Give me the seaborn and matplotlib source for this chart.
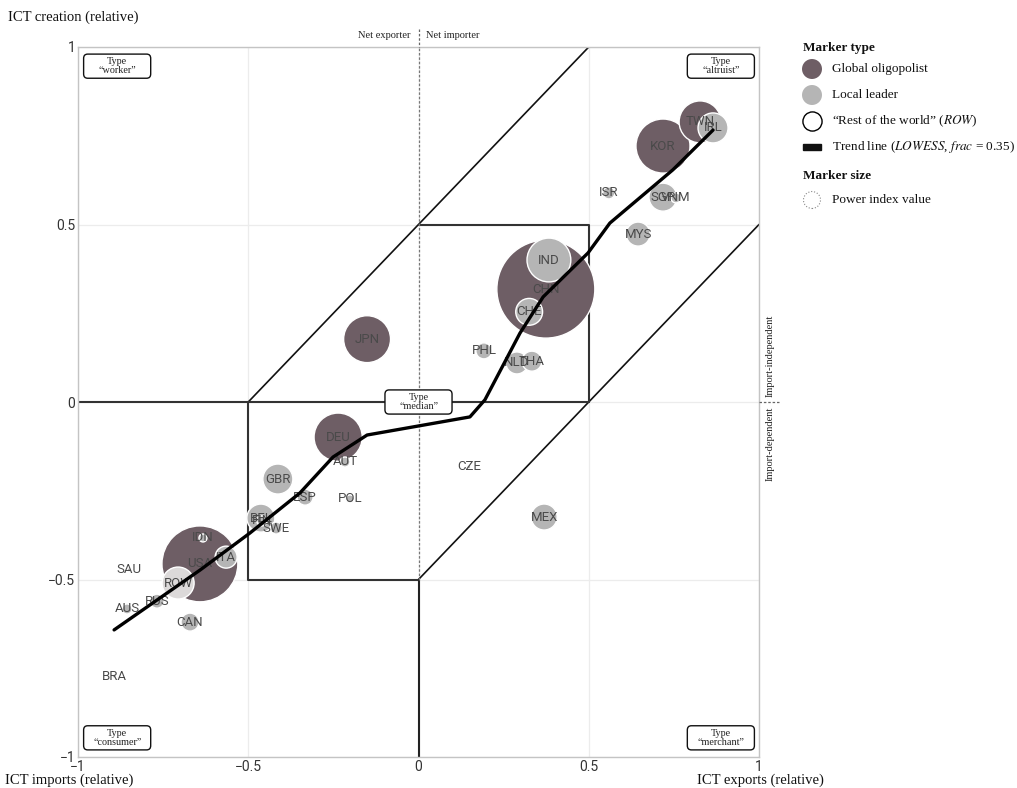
import numpy as np
import pandas as pd
import matplotlib
matplotlib.use("Agg")
import matplotlib.pyplot as plt
import seaborn as sns
from matplotlib.patches import FancyBboxPatch, Rectangle

# ---------------- data ----------------
countries = ["CHN", "USA", "KOR", "TWN", "DEU", "JPN", "IND", "CHE", "IRL", "SGP",
             "VNM", "MYS", "ISR", "PHL", "NLD", "THA", "MEX", "CZE", "GBR", "ESP",
             "AUT", "POL", "BEL", "FIN", "SWE", "IDN", "ITA", "SAU", "RUS", "AUS",
             "CAN", "BRA", "ROW"]
ict_exports = [0.374, -0.642, 0.718, 0.827, -0.236, -0.151, 0.383, 0.325, 0.865, 0.718,
               0.756, 0.645, 0.559, 0.192, 0.289, 0.333, 0.369, 0.148, -0.413, -0.333,
               -0.216, -0.201, -0.463, -0.460, -0.418, -0.633, -0.565, -0.850, -0.768, -0.856,
               -0.671, -0.894, -0.706]
ict_creation = [0.318, -0.456, 0.721, 0.789, -0.099, 0.177, 0.400, 0.254, 0.772, 0.577,
                0.575, 0.473, 0.589, 0.144, 0.110, 0.115, -0.324, -0.183, -0.217, -0.268,
                -0.169, -0.273, -0.327, -0.335, -0.355, -0.383, -0.437, -0.473, -0.561, -0.583,
                -0.620, -0.772, -0.510]
power_index = [24.0, 14.4, 7.3, 4.4, 5.8, 5.5, 4.8, 1.8, 2.25, 1.96,
               0.25, 1.44, 0.36, 0.64, 1.21, 1.0, 1.69, 0.04, 2.25, 0.64,
               0.25, 0.16, 1.96, 0.25, 0.36, 0.16, 1.21, 0.04, 0.49, 0.25,
               0.81, 0.04, 2.56]
marker_type = ["Global oligopolist", "Global oligopolist", "Global oligopolist", "Global oligopolist",
               "Global oligopolist", "Global oligopolist"] + ["Local leader"] * 26 + ["Rest of the world"]

trend_x = [-0.894, -0.641, -0.495, -0.348, -0.251, -0.151, 0.151, 0.195, 0.298, 0.366,
           0.498, 0.562, 0.747, 0.865]
trend_y = [-0.642, -0.473, -0.369, -0.256, -0.155, -0.093, -0.042, 0.006, 0.194, 0.296,
           0.420, 0.504, 0.654, 0.766]

tick_vals = [-1, -0.5, 0, 0.5, 1]
tick_labels = ["\u22121", "\u22120.5", "0", "0.5", "1"]

C_OLIG = "#6e5e65"
C_LOCAL = "#b5b5b5"
C_ROW = "#dcd9d9"
palette = {"Global oligopolist": C_OLIG, "Local leader": C_LOCAL, "Rest of the world": C_ROW}

# ---------------- style ----------------
sns.set_theme(style="whitegrid")
plt.rcParams["font.family"] = ["Liberation Serif", "DejaVu Serif"]
plt.rcParams["mathtext.fontset"] = "stix"
NARROW = ["Roboto", "DejaVu Sans"]

W, H = 1017, 788
fig = plt.figure(figsize=(W / 100, H / 100), dpi=100)
fig.patch.set_facecolor("white")
ax = fig.add_axes([78 / W, 31 / H, 681 / W, 710 / H])
ax.set_facecolor("white")

df = pd.DataFrame({"country": countries, "x": ict_exports, "y": ict_creation,
                   "power": power_index, "kind": marker_type})
df = df.sort_values("power", ascending=False).reset_index(drop=True)

pmax = 24.0
sns.scatterplot(data=df, x="x", y="y", hue="kind", size="power",
                sizes=(0, 207.36 * pmax), size_norm=(0, pmax), palette=palette,
                edgecolor="white", linewidth=1.0, legend=False, ax=ax, zorder=3)

for _, r in df.iterrows():
    ax.text(r["x"], r["y"], r["country"], ha="center", va="center", fontsize=9.5,
            color="#4a4a4a", family=NARROW, zorder=4)

# structure lines
lc = "#111111"
ax.plot([-0.5, 0.5], [0, 1], color=lc, lw=1.2, zorder=2)
ax.plot([0, 1], [-0.5, 0.5], color=lc, lw=1.2, zorder=2)
ax.plot([-1, 0.5], [0, 0], color="#333333", lw=1.5, zorder=2)
ax.plot([0, 0.5, 0.5], [0.5, 0.5, 0], color="#333333", lw=1.5, zorder=2)
ax.plot([-0.5, -0.5, 0], [0, -0.5, -0.5], color="#333333", lw=1.5, zorder=2)
ax.plot([0, 0], [-1, -0.5], color="#222222", lw=1.5, zorder=2)
ax.plot([0, 0], [-0.5, 1], color="#777777", lw=0.9, ls=(0, (2, 1.5)), zorder=2)

sns.lineplot(x=trend_x, y=trend_y, color="black", lw=2.4, sort=False,
             estimator=None, ax=ax, zorder=5)

# type boxes
def type_box(cx, cy, label):
    w, h = 0.197, 0.068
    p = FancyBboxPatch((cx - w / 2, cy - h / 2), w, h,
                       boxstyle="round,pad=0,rounding_size=0.012",
                       fc="white", ec="#111111", lw=1.0, zorder=6,
                       transform=ax.transData, mutation_aspect=1.0)
    ax.add_patch(p)
    ax.text(cx, cy, "Type\n" + label, ha="center", va="center", fontsize=7.3,
            linespacing=1.05, color="#222222", zorder=7)

type_box(-0.885, 0.946, "\u201cworker\u201d")
type_box(0.888, 0.946, "\u201caltruist\u201d")
type_box(-0.885, -0.946, "\u201cconsumer\u201d")
type_box(0.888, -0.946, "\u201cmerchant\u201d")
type_box(0.0, 0.0, "\u201cmedian\u201d")

ax.set_xlim(-1, 1)
ax.set_ylim(-1, 1)
ax.set_xticks(tick_vals)
ax.set_xticklabels(tick_labels)
ax.set_yticks(tick_vals)
ax.set_yticklabels(tick_labels)
for lab in ax.get_xticklabels() + ax.get_yticklabels():
    lab.set_family(NARROW)
    lab.set_fontsize(10)
    lab.set_color("#333333")
ax.tick_params(axis="both", length=0, pad=2)
ax.set_xlabel("")
ax.set_ylabel("")
ax.grid(True, color="#ececec", lw=0.9)
for s in ax.spines.values():
    s.set_color("#c4c4c4")
    s.set_linewidth(1.0)

# ---------------- overlay (pixel coordinates) for annotations & legend ----------------
ov = fig.add_axes([0, 0, 1, 1])
ov.set_xlim(0, W)
ov.set_ylim(H, 0)
ov.axis("off")
ov.patch.set_alpha(0)

ov.text(8, 17, "ICT creation (relative)", fontsize=10.5, ha="left", va="center", color="#111111")
ov.text(5, 780, "ICT imports (relative)", fontsize=10.5, ha="left", va="center", color="#111111")
ov.text(697, 780, "ICT exports (relative)", fontsize=10.5, ha="left", va="center", color="#111111")

ov.plot([418.5, 418.5], [29, 47], color="#666666", lw=0.9, ls=(0, (2, 1.5)))
ov.text(411, 35, "Net exporter", fontsize=7.5, ha="right", va="center", color="#222222")
ov.text(426, 35, "Net importer", fontsize=7.5, ha="left", va="center", color="#222222")

ov.plot([759, 780], [402, 402], color="#666666", lw=0.9, ls=(0, (2, 1.5)))
ov.text(770, 397, "Import-independent", fontsize=7.5, rotation=90, ha="center", va="bottom", color="#222222")
ov.text(770, 407, "Import-dependent", fontsize=7.5, rotation=90, ha="center", va="top", color="#222222")

# legend
lx, tx = 812, 832
ov.text(803, 48, "Marker type", fontsize=9.5, fontweight="bold", ha="left", va="center", color="#111111")
ov.scatter([lx], [69], s=207, color=C_OLIG, edgecolor="none")
ov.text(tx, 69, "Global oligopolist", fontsize=9.5, ha="left", va="center", color="#111111")
ov.scatter([lx], [95], s=207, color=C_LOCAL, edgecolor="none")
ov.text(tx, 95, "Local leader", fontsize=9.5, ha="left", va="center", color="#111111")
ov.scatter([lx], [121], s=190, facecolor="white", edgecolor="black", linewidth=1.0)
ov.text(tx, 121, "\u201cRest of the world\u201d ($\\mathit{ROW}$)", fontsize=9.5, ha="left", va="center", color="#111111")
ov.add_patch(Rectangle((803, 144), 18, 6, color="#111111"))
ov.text(tx, 147, "Trend line ($\\mathit{LOWESS}$, $\\mathit{frac}$ = 0.35)", fontsize=9.5, ha="left", va="center", color="#111111")
ov.text(803, 176, "Marker size", fontsize=9.5, fontweight="bold", ha="left", va="center", color="#111111")
ov.scatter([lx], [200], s=150, facecolor="none", edgecolor="#888888", linewidth=0.8, linestyle=":")
ov.text(tx, 200, "Power index value", fontsize=9.5, ha="left", va="center", color="#111111")

fig.savefig("out.png", dpi=100, facecolor="white")
